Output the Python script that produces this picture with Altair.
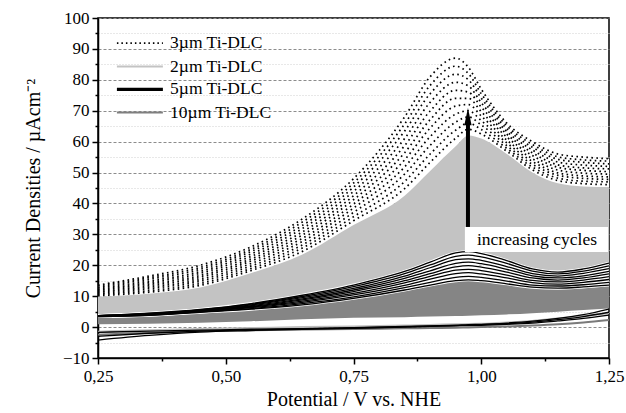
import altair as alt
import pandas as pd

# ---------------- data ----------------
V = [0.25, 0.35, 0.45, 0.55, 0.65, 0.75, 0.85, 0.90, 0.95, 0.975, 1.00, 1.05, 1.10, 1.15, 1.20, 1.25]

# 3 µm Ti-DLC, forward scans (dotted), highest cycle first
dlc3_c11 = [13.6, 16.5, 20.0, 26.0, 35.0, 48.0, 68.0, 81.0, 87.0, 84.0, 77.0, 66.0, 60.0, 56.0, 55.0, 54.5]
dlc3_c10 = [13.3, 16.0, 19.3, 25.2, 34.0, 46.6, 65.7, 78.2, 84.4, 82.0, 75.5, 65.1, 59.1, 55.1, 54.1, 53.7]
dlc3_c9 = [12.9, 15.5, 18.7, 24.5, 32.9, 45.3, 63.4, 75.5, 81.8, 80.0, 74.1, 64.2, 58.2, 54.3, 53.3, 52.8]
dlc3_c8 = [12.6, 14.9, 18.0, 23.7, 31.9, 43.9, 61.0, 72.7, 79.2, 78.0, 72.6, 63.3, 57.3, 53.4, 52.4, 52.0]
dlc3_c7 = [12.2, 14.4, 17.4, 22.9, 30.8, 42.5, 58.7, 69.9, 76.6, 76.0, 71.2, 62.4, 56.4, 52.5, 51.5, 51.2]
dlc3_c6 = [11.9, 13.9, 16.7, 22.1, 29.8, 41.2, 56.4, 67.1, 74.0, 74.0, 69.7, 61.5, 55.5, 51.7, 50.7, 50.3]
dlc3_c5 = [11.5, 13.4, 16.1, 21.4, 28.7, 39.8, 54.1, 64.4, 71.5, 72.0, 68.3, 60.5, 54.5, 50.8, 49.8, 49.5]
dlc3_c4 = [11.2, 12.9, 15.4, 20.6, 27.7, 38.5, 51.8, 61.6, 68.9, 70.0, 66.8, 59.6, 53.6, 49.9, 48.9, 48.6]
dlc3_c3 = [10.8, 12.4, 14.8, 19.8, 26.6, 37.1, 49.5, 58.8, 66.3, 68.0, 65.4, 58.7, 52.7, 49.1, 48.1, 47.8]
dlc3_c2 = [10.5, 11.8, 14.1, 19.0, 25.6, 35.7, 47.1, 56.0, 63.7, 66.0, 63.9, 57.8, 51.8, 48.2, 47.2, 47.0]
dlc3_c1 = [10.1, 11.3, 13.5, 18.3, 24.5, 34.4, 44.8, 53.3, 61.1, 64.0, 62.5, 56.9, 50.9, 47.4, 46.4, 46.1]
dlc3_cycles = [dlc3_c1, dlc3_c2, dlc3_c3, dlc3_c4, dlc3_c5, dlc3_c6,
               dlc3_c7, dlc3_c8, dlc3_c9, dlc3_c10, dlc3_c11]

# 2 µm Ti-DLC (light grey band of cycles)
dlc2_top = [9.8, 10.8, 12.8, 17.5, 23.5, 33.0, 42.5, 50.5, 58.5, 62.0, 61.0, 56.0, 50.0, 46.5, 45.5, 45.3]
dlc2_reverse = [-1.5, -1.0, -0.6, -0.3, 0.0, 0.2, 0.5, 0.7, 0.9, 1.0, 1.1, 1.5, 2.0, 2.8, 3.6, 4.5]

# 5 µm Ti-DLC (black cycles), lowest first
dlc5_c1 = [3.4, 3.8, 4.8, 5.8, 7.2, 9.3, 12.0, 13.6, 15.0, 15.3, 15.0, 14.0, 12.9, 12.6, 13.0, 13.6]
dlc5_c2 = [3.4, 3.9, 4.9, 6.0, 7.6, 9.8, 12.8, 14.5, 16.1, 16.4, 16.1, 14.9, 13.6, 13.3, 13.7, 14.5]
dlc5_c3 = [3.5, 4.0, 5.0, 6.3, 8.0, 10.4, 13.5, 15.5, 17.3, 17.6, 17.2, 15.9, 14.4, 13.9, 14.5, 15.4]
dlc5_c4 = [3.5, 4.1, 5.1, 6.5, 8.4, 10.9, 14.3, 16.4, 18.4, 18.7, 18.3, 16.8, 15.1, 14.6, 15.2, 16.3]
dlc5_c5 = [3.6, 4.2, 5.3, 6.7, 8.8, 11.5, 15.0, 17.3, 19.5, 19.9, 19.4, 17.8, 15.9, 15.2, 15.9, 17.2]
dlc5_c6 = [3.6, 4.2, 5.4, 6.9, 9.1, 12.0, 15.8, 18.2, 20.6, 21.0, 20.5, 18.7, 16.6, 15.9, 16.6, 18.0]
dlc5_c7 = [3.6, 4.3, 5.5, 7.2, 9.5, 12.5, 16.5, 19.2, 21.8, 22.1, 21.6, 19.6, 17.3, 16.5, 17.4, 18.9]
dlc5_c8 = [3.7, 4.4, 5.6, 7.4, 9.9, 13.1, 17.3, 20.1, 22.9, 23.3, 22.7, 20.6, 18.1, 17.2, 18.1, 19.8]
dlc5_c9 = [3.7, 4.5, 5.7, 7.6, 10.3, 13.6, 18.0, 21.0, 24.0, 24.4, 23.8, 21.5, 18.8, 17.8, 18.8, 20.7]
dlc5_cycles = [dlc5_c1, dlc5_c2, dlc5_c3, dlc5_c4, dlc5_c5, dlc5_c6, dlc5_c7, dlc5_c8, dlc5_c9]
dlc5_rev_a = [-1.7, -1.3, -1.0, -0.7, -0.5, -0.2, 0.2, 0.4, 0.6, 0.8, 0.9, 1.3, 1.9, 2.8, 4.0, 5.8]
dlc5_rev_b = [-3.0, -2.0, -1.3, -0.9, -0.6, -0.3, 0.1, 0.3, 0.5, 0.6, 0.8, 1.1, 1.6, 2.4, 3.4, 4.8]
dlc5_rev_c = [-4.2, -2.7, -1.6, -1.1, -0.7, -0.4, 0.0, 0.2, 0.4, 0.5, 0.6, 0.9, 1.3, 2.0, 2.8, 3.9]

# 10 µm Ti-DLC (dark grey band)
dlc10_top = [3.4, 3.8, 4.8, 5.8, 7.2, 9.3, 12.0, 13.6, 15.0, 15.3, 15.0, 14.0, 12.9, 12.6, 13.0, 13.6]
dlc10_bottom = [0.9, 1.1, 1.4, 1.9, 2.5, 3.0, 3.2, 3.4, 3.6, 3.7, 3.8, 4.1, 4.5, 5.0, 5.5, 6.0]
dlc10_reverse = [-2.5, -1.8, -1.3, -1.0, -0.8, -0.6, -0.4, -0.3, -0.2, -0.1, 0.0, 0.2, 0.5, 0.9, 1.5, 2.3]

# legend
legend_labels = ["3µm Ti-DLC", "2µm Ti-DLC", "5µm Ti-DLC", "10µm Ti-DLC"]
legend_colors = ["black", "#c3c3c3", "black", "#7f7f7f"]
legend_dash = [[1.5, 3], [1, 0], [1, 0], [1, 0]]
legend_width = [1.8, 2.0, 3.2, 2.0]
legend_y = [91.9, 84.3, 76.9, 69.4]
legend_x = [0.287, 0.377]
legend_text_x = 0.391

# annotation
arrow_x = 0.974
arrow_shaft = [32.4, 66.0]
arrow_head_y = 68.1
note_box_x = [0.968, 1.248]
note_box_y = [24.3, 32.4]
note_text = "increasing cycles"
note_xy = [1.109, 28.3]

FONT = "Liberation Serif"

# ---------------- tables ----------------
def long(cycles, name):
    rows = []
    for i, c in enumerate(cycles):
        for v, y in zip(V, c):
            rows.append({"V": v, "I": y, "cycle": f"{name}{i}"})
    return pd.DataFrame(rows)

dots_df = long(dlc3_cycles, "c3_")
black_df = long(dlc5_cycles, "c5_")
band_df = pd.DataFrame({"V": V, "w_top": dlc3_c11, "g_top": dlc2_top, "g_bot": dlc5_c9,
                        "d_top": dlc10_top, "d_bot": dlc10_bottom})
rev_black_df = long([dlc5_rev_a, dlc5_rev_b, dlc5_rev_c], "r5_")
rev_dark_df = long([dlc10_reverse], "r10_")
rev_light_df = long([dlc2_reverse], "r2_")

xscale = alt.Scale(domain=[0.25, 1.25], nice=False, zero=False)
yscale = alt.Scale(domain=[-10, 100], nice=False, zero=False)

minor_y = "datum.value % 10 != 0"
minor_x = "abs(datum.value*4 - round(datum.value*4)) > 0.01"

xaxis = alt.Axis(
    values=[0.25 + 0.125 * i for i in range(9)],
    labelExpr=f"{minor_x} ? '' : replace(format(datum.value, '.2f'), '.', ',')",
    tickSize={"condition": {"test": minor_x, "value": 3}, "value": 6},
    grid=False, labelFlush=False, labelOverlap=False, labelPadding=4,
    title="Potential / V vs. NHE", titlePadding=5,
)
yaxis = alt.Axis(
    values=list(range(-10, 101, 5)),
    labelExpr=f"{minor_y} ? '' : format(datum.value, 'd')",
    tickSize={"condition": {"test": minor_y, "value": 3}, "value": 6},
    grid=True,
    gridDash={"condition": {"test": minor_y, "value": [1, 2]}, "value": [3, 2]},
    gridColor={"condition": {"test": minor_y, "value": "#d0d0d0"}, "value": "#8c8c8c"},
    labelOverlap=False, labelPadding=3,
    title="Current Densities / µAcm⁻²", titleX=-55, titleY=170,
)

def X(f="V"):
    return alt.X(f"{f}:Q", scale=xscale, axis=xaxis)

def Y(f="I"):
    return alt.Y(f"{f}:Q", scale=yscale, axis=yaxis)

white_under = alt.Chart(band_df).mark_area(color="white", interpolate="monotone", clip=True).encode(
    x=X(), y=Y("w_top"), y2="g_top:Q")

dots = alt.Chart(dots_df).mark_line(
    color="black", strokeWidth=1.7, strokeDash=[1.6, 3.4], interpolate="monotone", clip=True
).encode(x=X(), y=Y(), detail="cycle:N")

gray = alt.Chart(band_df).mark_area(color="#c3c3c3", interpolate="monotone", clip=True).encode(
    x=X(), y=Y("g_top"), y2="g_bot:Q")

dark = alt.Chart(band_df).mark_area(color="#858585", interpolate="monotone", clip=True).encode(
    x=X(), y=Y("d_top"), y2="d_bot:Q")

halo = alt.Chart(black_df).mark_line(color="white", strokeWidth=3, interpolate="monotone", clip=True).encode(
    x=X(), y=Y(), detail="cycle:N")
blk = alt.Chart(black_df).mark_line(color="black", strokeWidth=1.3, interpolate="monotone", clip=True).encode(
    x=X(), y=Y(), detail="cycle:N")

rev_light = alt.Chart(rev_light_df).mark_line(color="#bdbdbd", strokeWidth=2, interpolate="monotone", clip=True).encode(
    x=X(), y=Y(), detail="cycle:N")
rev_dark = alt.Chart(rev_dark_df).mark_line(color="#7a7a7a", strokeWidth=2, interpolate="monotone", clip=True).encode(
    x=X(), y=Y(), detail="cycle:N")
rev_blk = alt.Chart(rev_black_df).mark_line(color="black", strokeWidth=1.3, interpolate="monotone", clip=True).encode(
    x=X(), y=Y(), detail="cycle:N")

layers = [white_under, dots, gray, dark, halo, blk, rev_light, rev_dark, rev_blk]

# legend
for lab, col, dash, w, ly in zip(legend_labels, legend_colors, legend_dash, legend_width, legend_y):
    d = pd.DataFrame({"x0": [legend_x[0]], "x1": [legend_x[1]], "y": [ly], "tx": [legend_text_x], "label": [lab]})
    layers.append(alt.Chart(d).mark_rule(color=col, strokeWidth=w, strokeDash=dash).encode(
        x=X("x0"), x2="x1:Q", y=Y("y")))
    layers.append(alt.Chart(d).mark_text(align="left", baseline="middle", font=FONT, fontSize=17.5,
                                         color="black").encode(x=X("tx"), y=Y("y"), text="label:N"))

# arrow and note
ad = pd.DataFrame({"x": [arrow_x], "y0": [arrow_shaft[0]], "y1": [arrow_shaft[1]], "hy": [arrow_head_y]})
layers.append(alt.Chart(ad).mark_rule(color="black", strokeWidth=4).encode(x=X("x"), y=Y("y0"), y2="y1:Q"))
layers.append(alt.Chart(ad).mark_point(shape="M0,-1L0.42,1L-0.42,1Z", filled=True, color="black",
                                       opacity=1, size=300).encode(x=X("x"), y=Y("hy")))
nd = pd.DataFrame({"x0": [note_box_x[0]], "x1": [note_box_x[1]], "y0": [note_box_y[0]], "y1": [note_box_y[1]],
                   "tx": [note_xy[0]], "ty": [note_xy[1]], "t": [note_text]})
layers.append(alt.Chart(nd).mark_rect(color="white").encode(x=X("x0"), x2="x1:Q", y=Y("y0"), y2="y1:Q"))
layers.append(alt.Chart(nd).mark_text(font=FONT, fontSize=17.5, color="black", baseline="middle").encode(
    x=X("tx"), y=Y("ty"), text="t:N"))

chart = alt.layer(*layers).properties(
    width=511, height=340,
    background="white",
    autosize=alt.AutoSizeParams(type="none"),
    padding={"left": 98, "top": 18, "right": 17, "bottom": 55},
).configure_view(stroke="black", strokeWidth=1.5).configure_axis(
    labelFont=FONT, labelFontSize=17, labelColor="black",
    titleFont=FONT, titleFontSize=20, titleFontWeight="normal", titleColor="black",
    domainColor="black", domainWidth=1.5, tickColor="black", tickWidth=1.5,
)

chart.save("out.html", embed_options={"renderer": "svg", "actions": False})
